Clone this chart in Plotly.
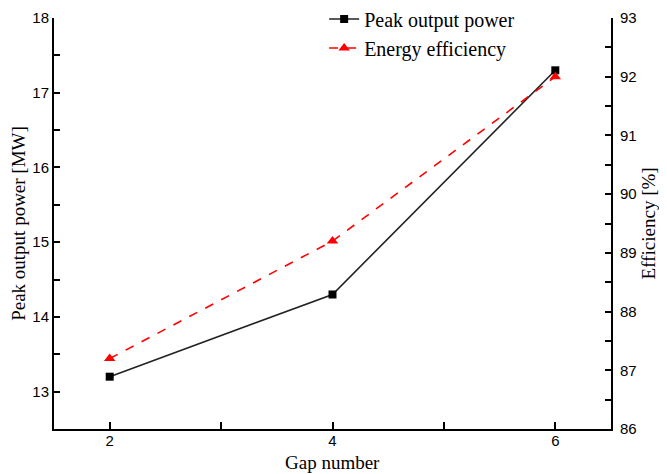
import plotly.graph_objects as go

gap_number = [2, 4, 6]
peak_power = [13.2, 14.3, 17.3]
efficiency = [87.2, 89.2, 92.0]

x_ticks = [2, 3, 4, 5, 6]
x_tick_text = ["2", "", "4", "", "6"]
y1_ticks = [13, 13.5, 14, 14.5, 15, 15.5, 16, 16.5, 17, 17.5, 18]
y1_tick_text = ["13", "", "14", "", "15", "", "16", "", "17", "", "18"]
y2_ticks = [86, 86.5, 87, 87.5, 88, 88.5, 89, 89.5, 90, 90.5, 91, 91.5, 92, 92.5, 93]
y2_tick_text = ["86", "", "87", "", "88", "", "89", "", "90", "", "91", "", "92", "", "93"]

fig = go.Figure()
fig.add_trace(go.Scatter(
    x=gap_number, y=peak_power, name="Peak output power",
    mode="lines+markers",
    line=dict(color="#222222", width=1.6),
    marker=dict(symbol="square", size=8, color="black"),
    yaxis="y"))
fig.add_trace(go.Scatter(
    x=gap_number, y=efficiency, name="Energy efficiency",
    mode="lines+markers",
    line=dict(color="#ff0000", width=1.6, dash="dash"),
    marker=dict(symbol="triangle-up", size=10, color="#ff0000"),
    yaxis="y2"))

tick_font = dict(family="Liberation Sans, Arial, sans-serif", size=15, color="black")
title_font = dict(family="Liberation Serif, Times New Roman, serif", size=19, color="black")

# The page body has an 8px margin, so the figure is sized to fit the window.
fig.update_layout(
    width=659, height=466,
    margin=dict(l=46, r=56, t=10, b=45, autoexpand=False),
    paper_bgcolor="white", plot_bgcolor="white",
    showlegend=True,
    legend=dict(x=0.485, y=1.045, xanchor="left", yanchor="top",
                bgcolor="rgba(0,0,0,0)",
                font=dict(family="Liberation Serif, Times New Roman, serif", size=20, color="black"),
                tracegroupgap=0),
    xaxis=dict(range=[1.5, 6.5], tickvals=x_ticks, ticktext=x_tick_text,
               ticks="inside", ticklen=7, tickwidth=1.5, tickcolor="black",
               showline=True, linecolor="black", linewidth=2, mirror=False,
               showgrid=False, zeroline=False, tickfont=tick_font,
               ticklabelstandoff=-3, automargin=False),
    yaxis=dict(range=[12.5, 18], tickvals=y1_ticks, ticktext=y1_tick_text,
               ticks="inside", ticklen=6, tickwidth=1.5, tickcolor="black",
               showline=True, linecolor="black", linewidth=2,
               showgrid=False, zeroline=False, tickfont=tick_font,
               automargin=False),
    yaxis2=dict(range=[86, 93], tickvals=y2_ticks, ticktext=y2_tick_text,
                overlaying="y", side="right",
                ticks="inside", ticklen=6, tickwidth=1.5, tickcolor="black",
                showline=True, linecolor="black", linewidth=2,
                showgrid=False, zeroline=False, tickfont=tick_font,
                ticklabelstandoff=4, automargin=False),
    annotations=[
        dict(text="Gap number", xref="paper", yref="paper", x=0.5, y=-0.081,
             xanchor="center", yanchor="middle", showarrow=False, font=title_font),
        dict(text="Peak output power [MW]", xref="paper", yref="paper", x=-0.064, y=0.5,
             xanchor="center", yanchor="middle", textangle=-90, showarrow=False, font=title_font),
        dict(text="Efficiency [%]", xref="paper", yref="paper", x=1.068, y=0.5,
             xanchor="center", yanchor="middle", textangle=-90, showarrow=False, font=title_font),
    ],
)

fig.write_html("out.html")
